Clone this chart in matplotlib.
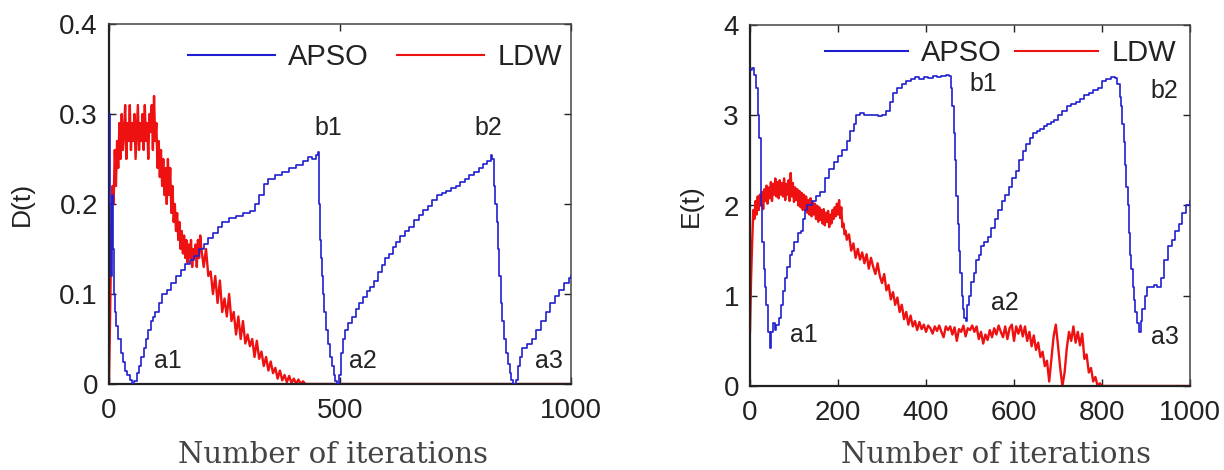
import numpy as np
import matplotlib
matplotlib.use("Agg")
import matplotlib.pyplot as plt
from matplotlib.ticker import FuncFormatter

# ---------------- data ----------------
# Left panel: D(t)
apso_d_x = [0, 2, 4, 6, 8, 10, 13, 16, 20, 25, 30, 35, 40, 45, 50, 55, 60, 65, 70, 75,
            80, 85, 90, 95, 100, 108, 115, 125, 135, 145, 155, 165, 175, 185, 195, 205,
            215, 225, 235, 245, 260, 275, 290, 305, 315, 325, 335, 345, 360, 375, 390,
            405, 420, 430, 440, 448, 452, 454, 456, 458, 460, 463, 466, 470, 474, 478,
            482, 486, 490, 494, 498, 502, 506, 510, 518, 526, 534, 542, 550, 558, 566,
            574, 582, 590, 598, 606, 614, 622, 630, 640, 650, 660, 670, 680, 690, 700,
            710, 720, 730, 740, 750, 760, 770, 780, 790, 800, 810, 818, 826, 830, 833,
            836, 839, 842, 845, 848, 851, 855, 859, 863, 867, 871, 875, 880, 885, 890,
            895, 905, 915, 925, 935, 945, 955, 965, 975, 985, 995, 1000]
apso_d_y = [0.30, 0.20, 0.12, 0.21, 0.15, 0.10, 0.08, 0.065, 0.05, 0.035, 0.025, 0.015,
            0.01, 0.005, 0.0, 0.003, 0.012, 0.02, 0.03, 0.04, 0.05, 0.06, 0.07, 0.075,
            0.08, 0.09, 0.10, 0.105, 0.112, 0.12, 0.127, 0.133, 0.138, 0.142, 0.15,
            0.156, 0.162, 0.168, 0.175, 0.18, 0.184, 0.187, 0.19, 0.192, 0.20, 0.21,
            0.222, 0.228, 0.232, 0.236, 0.24, 0.243, 0.248, 0.252, 0.25, 0.255, 0.258,
            0.20, 0.16, 0.14, 0.12, 0.10, 0.08, 0.06, 0.045, 0.03, 0.02, 0.01, 0.003,
            0.0, 0.01, 0.035, 0.05, 0.06, 0.068, 0.075, 0.083, 0.09, 0.097, 0.103,
            0.108, 0.115, 0.125, 0.132, 0.14, 0.145, 0.152, 0.158, 0.165, 0.17, 0.175,
            0.182, 0.188, 0.193, 0.198, 0.205, 0.21, 0.212, 0.215, 0.218, 0.22, 0.225,
            0.228, 0.232, 0.236, 0.24, 0.244, 0.248, 0.255, 0.25, 0.22, 0.20, 0.18,
            0.15, 0.12, 0.09, 0.07, 0.05, 0.035, 0.022, 0.012, 0.004, 0.0, 0.005, 0.02,
            0.03, 0.04, 0.045, 0.05, 0.06, 0.07, 0.08, 0.09, 0.098, 0.105, 0.112,
            0.118, 0.12]

ldw_d_x = list(np.arange(0, 200, 2.5)) + list(range(200, 445, 5)) + [1000]
ldw_d_y = [0.0, 0.08, 0.17, 0.22, 0.2, 0.26, 0.22, 0.27, 0.24, 0.29,
           0.25, 0.3, 0.26, 0.28, 0.31, 0.25, 0.29, 0.27, 0.31, 0.26,
           0.29, 0.27, 0.3, 0.25, 0.28, 0.31, 0.26, 0.29, 0.27, 0.3,
           0.26, 0.31, 0.27, 0.29, 0.25, 0.3, 0.28, 0.31, 0.26, 0.32,
           0.27, 0.29, 0.24, 0.27, 0.23, 0.26, 0.22, 0.25, 0.21, 0.24,
           0.2, 0.25, 0.21, 0.24, 0.19, 0.22, 0.18, 0.2, 0.17, 0.19,
           0.16, 0.18, 0.15, 0.17, 0.145, 0.165, 0.14, 0.16, 0.135, 0.155,
           0.14, 0.16, 0.13, 0.15, 0.14, 0.155, 0.13, 0.16, 0.14, 0.165,
           # 200 onwards, every 5 iterations
           0.15, 0.13, 0.15, 0.12, 0.125, 0.1, 0.12, 0.09, 0.115, 0.08,
           0.095, 0.075, 0.1, 0.07, 0.08, 0.055, 0.075, 0.05, 0.07, 0.045,
           0.055, 0.042, 0.05, 0.03, 0.048, 0.028, 0.036, 0.02, 0.03, 0.015,
           0.025, 0.012, 0.018, 0.006, 0.015, 0.004, 0.01, 0.002, 0.009, 0.001,
           0.006, 0.0, 0.005, 0.0, 0.003, 0.0, 0.0, 0.0, 0.0,
           0.0]

# Right panel: E(t)
apso_e_x = [0, 5, 10, 14, 18, 21, 24, 26, 28, 31, 34, 37, 40, 42, 45, 48, 52, 56, 60,
            65, 70, 75, 80, 85, 90, 95, 100, 108, 115, 120, 125, 130, 140, 150, 160,
            170, 180, 190, 200, 210, 220, 228, 236, 242, 250, 260, 270, 280, 290, 300,
            310, 318, 326, 335, 345, 355, 365, 375, 385, 395, 405, 415, 425, 435, 445,
            452, 456, 460, 463, 466, 469, 472, 475, 478, 481, 484, 487, 490, 494, 498,
            502, 508, 514, 520, 526, 532, 540, 548, 556, 564, 572, 580, 588, 596, 604,
            612, 620, 628, 636, 644, 652, 660, 668, 676, 684, 692, 700, 710, 720, 730,
            740, 750, 760, 770, 780, 790, 800, 810, 820, 830, 835, 840, 843, 846, 849,
            852, 855, 858, 861, 864, 867, 870, 873, 876, 880, 884, 888, 892, 897, 903,
            910, 918, 926, 934, 942, 950, 958, 966, 974, 982, 990, 1000]
apso_e_y = [3.5, 3.52, 3.45, 3.3, 3.0, 2.75, 2.3, 2.0, 1.6, 1.3, 1.1, 0.9, 0.75, 0.6,
            0.42, 0.6, 0.7, 0.62, 0.68, 0.75, 0.9, 1.05, 1.2, 1.32, 1.45, 1.5, 1.6,
            1.7, 1.72, 1.85, 1.95, 2.0, 2.05, 2.1, 2.15, 2.3, 2.4, 2.48, 2.55, 2.62,
            2.72, 2.82, 2.9, 3.0, 3.02, 3.0, 3.0, 3.0, 2.99, 3.0, 3.05, 3.15, 3.25,
            3.3, 3.35, 3.38, 3.4, 3.42, 3.4, 3.42, 3.41, 3.43, 3.42, 3.44, 3.45, 3.44,
            3.3, 3.1, 2.8, 2.5, 2.1, 1.8, 1.5, 1.25, 1.0, 0.85, 0.75, 0.72, 0.9, 1.0,
            1.15, 1.25, 1.4, 1.45, 1.55, 1.6, 1.65, 1.75, 1.85, 1.95, 2.05, 2.12, 2.2,
            2.3, 2.38, 2.5, 2.6, 2.68, 2.75, 2.8, 2.82, 2.85, 2.88, 2.9, 2.92, 2.95,
            3.0, 3.05, 3.1, 3.12, 3.15, 3.18, 3.22, 3.25, 3.28, 3.3, 3.38, 3.4, 3.42,
            3.41, 3.35, 3.2, 3.1, 2.9, 2.7, 2.45, 2.2, 2.0, 1.7, 1.45, 1.3, 1.1, 0.95,
            0.82, 0.7, 0.6, 0.72, 0.85, 1.0, 1.1, 1.1, 1.12, 1.1, 1.2, 1.4, 1.55, 1.62,
            1.72, 1.8, 1.92, 2.0, 2.05]

ldw_e_x = list(np.arange(0, 220, 2.5)) + list(range(220, 805, 5)) + [1000]
ldw_e_y = [0.6, 1.2, 1.6, 1.95, 1.85, 2.05, 1.9, 2.1, 1.95, 2.12,
           2.0, 2.15, 1.96, 2.18, 2.05, 2.22, 2.02, 2.2, 2.08, 2.26,
           2.05, 2.24, 2.12, 2.3, 2.1, 2.26, 2.08, 2.28, 2.12, 2.25,
           2.1, 2.3, 2.06, 2.24, 2.12, 2.28, 2.05, 2.36, 2.1, 2.25,
           2.04, 2.2, 2.06, 2.18, 2.0, 2.16, 1.98, 2.14, 1.95, 2.12,
           1.96, 2.1, 1.92, 2.06, 1.9, 2.08, 1.88, 2.04, 1.9, 2.02,
           1.85, 2.0, 1.82, 1.98, 1.84, 1.95, 1.8, 1.96, 1.78, 1.92,
           1.82, 1.94, 1.76, 1.9, 1.8, 1.95, 1.85, 1.98, 1.88, 2.02,
           1.9, 2.06, 1.86, 1.98, 1.76, 1.8, 1.68, 1.72,
           # 220 onwards, every 5 iterations
           1.62, 1.68, 1.5, 1.58, 1.42, 1.52,
           1.4, 1.48, 1.36, 1.46, 1.3, 1.42, 1.32, 1.24, 1.36, 1.22,
           1.14, 1.24, 1.06, 1.12, 0.96, 1.04, 0.9, 0.98, 0.82, 0.9,
           0.74, 0.82, 0.68, 0.78, 0.66, 0.72, 0.62, 0.71, 0.63, 0.68,
           0.6, 0.67, 0.64, 0.58, 0.66, 0.61, 0.67, 0.6, 0.54, 0.66,
           0.62, 0.66, 0.57, 0.65, 0.5, 0.63, 0.6, 0.67, 0.55, 0.64,
           0.62, 0.67, 0.6, 0.66, 0.52, 0.6, 0.47, 0.57, 0.51, 0.62,
           0.54, 0.64, 0.57, 0.67, 0.6, 0.54, 0.66, 0.52, 0.64, 0.68,
           0.5, 0.66, 0.58, 0.67, 0.55, 0.66, 0.5, 0.6, 0.44, 0.56,
           0.4, 0.48, 0.32, 0.38, 0.22, 0.28, 0.05, 0.3, 0.55, 0.68,
           0.45, 0.2, 0.0, 0.15, 0.42, 0.6, 0.5, 0.66, 0.48, 0.6,
           0.45, 0.58, 0.3, 0.35, 0.15, 0.2, 0.05, 0.1, 0.0, 0.03,
           0.0,
           0.0]

left_xticks = [0, 500, 1000]
left_yticks = [0, 0.1, 0.2, 0.3, 0.4]
right_xticks = [0, 200, 400, 600, 800, 1000]
right_yticks = [0, 1, 2, 3, 4]

left_notes = [("a1", 98, 0.025), ("b1", 444, 0.285), ("a2", 520, 0.025),
              ("b2", 790, 0.285), ("a3", 922, 0.025)]
right_notes = [("a1", 91, 0.56), ("b1", 499, 3.35), ("a2", 548, 0.92),
               ("b2", 911, 3.27), ("a3", 911, 0.54)]

series_names = ["APSO", "LDW"]
xlabel_text = "Number of iterations"

# ---------------- style ----------------
BLUE = "#1f1fd0"
RED = "#ee1111"
TXT = "#222222"
SANS = ["Liberation Sans", "DejaVu Sans"]
SERIF = ["DejaVu Serif", "Liberation Serif"]
plt.rcParams["font.family"] = SANS

fig = plt.figure(figsize=(12.24, 4.70), dpi=100)
W, H = 1224.0, 470.0
axL = fig.add_axes([109 / W, (H - 384) / H, (571 - 109) / W, (384 - 24) / H])
axR = fig.add_axes([750 / W, (H - 386) / H, (1190 - 750) / W, (386 - 25) / H])

fmt = FuncFormatter(lambda v, p: f"{v:g}")


def style(ax, xt, yt, ylim, ylabel, lpad):
    ax.set_xlim(0, 1000)
    ax.set_ylim(*ylim)
    ax.set_xticks(xt)
    ax.set_yticks(yt)
    ax.xaxis.set_major_formatter(fmt)
    ax.yaxis.set_major_formatter(fmt)
    ax.tick_params(direction="in", length=5, width=1, top=True, right=True,
                   labelsize=20, colors=TXT, pad=8)
    ax.tick_params(axis="x", pad=10)
    for s in ["left", "bottom"]:
        ax.spines[s].set_color("#222222")
        ax.spines[s].set_linewidth(1.6)
    for s in ["top", "right"]:
        ax.spines[s].set_color("#444444")
        ax.spines[s].set_linewidth(1.1)
    ax.set_ylabel(ylabel, fontsize=19, color=TXT, labelpad=lpad)


style(axL, left_xticks, left_yticks, (0, 0.4), "D(t)", 18)
style(axR, right_xticks, right_yticks, (0, 4), "E(t)", 15)

for ax, ax_, ay_, lx_, ly_, notes, legy, cs, hl in [
        (axL, apso_d_x, apso_d_y, ldw_d_x, ldw_d_y, left_notes, 0.908, 0.95, 3.0),
        (axR, apso_e_x, apso_e_y, ldw_e_x, ldw_e_y, right_notes, 0.922, 0.45, 2.85)]:
    ax.plot(ax_, ay_, color=BLUE, lw=1.2, drawstyle="steps-post",
            label=series_names[0], zorder=3)
    ax.plot(lx_, ly_, color=RED, lw=1.7, label=series_names[1], zorder=2)
    for t, x, y in notes:
        ax.text(x, y, t, fontsize=18, color=TXT, ha="left", va="center")
    leg = ax.legend(loc="center left", bbox_to_anchor=(0.17, legy), frameon=False,
                    ncol=2, fontsize=21, handlelength=hl, handletextpad=0.45,
                    columnspacing=cs, borderaxespad=0, borderpad=0,
                    labelcolor=TXT)
    for ln in leg.get_lines():
        ln.set_linewidth(1.5)

fig.text(333 / W, (H - 463) / H, xlabel_text, family=SERIF, fontsize=21,
         color="#444444", ha="center", va="baseline")
fig.text(996 / W, (H - 463) / H, xlabel_text, family=SERIF, fontsize=21,
         color="#444444", ha="center", va="baseline")

fig.savefig("out.png", dpi=100, facecolor="white")
